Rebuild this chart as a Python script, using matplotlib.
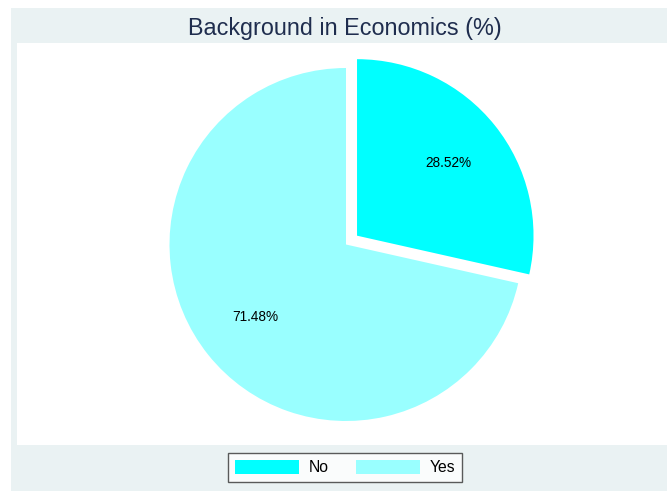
import matplotlib
matplotlib.use("Agg")
import matplotlib.pyplot as plt
from matplotlib.patches import Rectangle, Patch

labels = ["No", "Yes"]
values = [28.52, 71.48]
colors = ["#00FFFF", "#99FFFF"]
explode = [0.08, 0.0]
title = "Background in Economics (%)"

W, H = 667, 491
fig = plt.figure(figsize=(W / 100, H / 100), dpi=100)
fig.patch.set_facecolor("white")
plt.rcParams['font.family'] = ['Liberation Sans', 'DejaVu Sans']

def fx(px):
    return px / W

def fy(py):
    return 1 - py / H

# outer light background
fig.patches.append(Rectangle((fx(11), 0), 1 - fx(11), fy(8), transform=fig.transFigure,
                             facecolor="#EAF2F3", edgecolor="none", zorder=-2))
# white plot region
fig.patches.append(Rectangle((fx(17), fy(445)), 1 - fx(17), fy(43) - fy(445),
                             transform=fig.transFigure, facecolor="white",
                             edgecolor="none", zorder=-1))

ax = fig.add_axes([fx(17), fy(445), 1 - fx(17), fy(43) - fy(445)])
ax.set_zorder(1)
ax.set_facecolor("none")
cx, cy, r = 346, 244.5, 176.5
wedges, texts, autotexts = ax.pie(
    values, colors=colors, explode=explode, startangle=90, counterclock=False,
    autopct=lambda p: f"{p:.2f}%", pctdistance=0.66, radius=1.0,
    wedgeprops=dict(linewidth=0),
    textprops=dict(fontsize=9.8, color="black"))
ax.set_xlim((17 - cx) / r, (667 - cx) / r)
ax.set_ylim((cy - 445) / r, (cy - 43) / r)
ax.set_aspect("auto")
ax.axis("off")

fig.text(fx(345), fy(29), title, ha="center", va="center", fontsize=16.8, color="#1F2D4E")

handles = [Patch(facecolor=c, edgecolor="none") for c in colors]
leg = fig.legend(handles, labels, loc="center", bbox_to_anchor=(fx(345), fy(467.5)),
                 ncol=2, fontsize=11.3, frameon=True, fancybox=False,
                 handlelength=4.1, handleheight=1.05, handletextpad=0.62,
                 columnspacing=1.7, borderpad=0.45)
leg.set_zorder(2)
leg.get_frame().set_edgecolor("#333333")
leg.get_frame().set_linewidth(1.0)
leg.get_frame().set_facecolor("white")

fig.savefig("out.png", dpi=100, facecolor=fig.get_facecolor())
